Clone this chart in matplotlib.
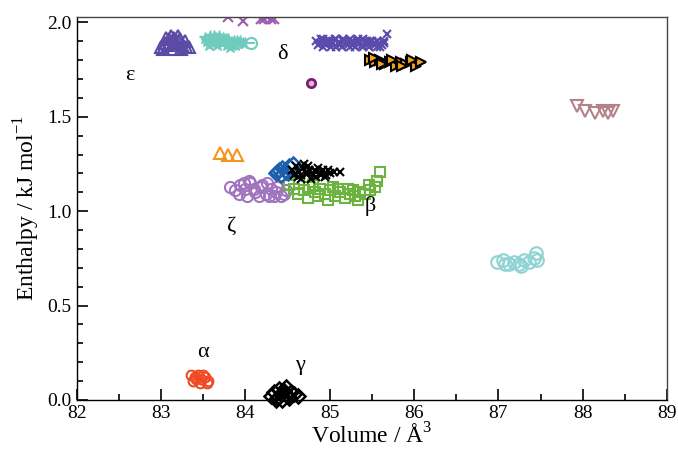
import matplotlib
matplotlib.use("Agg")
import matplotlib.pyplot as plt

plt.rcParams['font.family'] = ['Liberation Serif', 'DejaVu Serif']
plt.rcParams['mathtext.fontset'] = 'custom'
plt.rcParams['mathtext.rm'] = 'Liberation Serif'

# ---- data (volume in Å^3, enthalpy in kJ/mol) ----
eps_x = [83.00, 83.05, 83.10, 83.15, 83.20, 83.25, 83.30, 83.02, 83.08, 83.12, 83.18, 83.22, 83.28, 83.33, 83.06, 83.14, 83.20, 83.10, 83.24, 83.16]
eps_y = [1.87, 1.89, 1.91, 1.92, 1.90, 1.88, 1.87, 1.86, 1.88, 1.93, 1.89, 1.91, 1.90, 1.87, 1.92, 1.86, 1.93, 1.89, 1.86, 1.90]

teal_x = [83.52, 83.55, 83.58, 83.60, 83.62, 83.65, 83.68, 83.70, 83.72, 83.75, 83.78, 83.80, 83.83, 83.86, 83.88, 83.91, 83.94, 83.97, 84.00, 83.57, 83.63, 83.67, 83.73, 83.77, 83.82, 83.59, 83.69, 83.84, 83.90]
teal_y = [1.92, 1.90, 1.93, 1.89, 1.91, 1.92, 1.90, 1.91, 1.89, 1.90, 1.88, 1.91, 1.89, 1.90, 1.88, 1.89, 1.90, 1.89, 1.89, 1.88, 1.93, 1.88, 1.92, 1.91, 1.87, 1.91, 1.93, 1.88, 1.90]
theta_x = [84.07]
theta_y = [1.89]

top_x = [83.80, 83.97, 84.18, 84.22, 84.26, 84.30, 84.34]
top_y = [2.03, 2.01, 2.02, 2.02, 2.03, 2.02, 2.02]

delta_x = [84.84, 84.88, 84.92, 84.96, 85.00, 85.04, 85.08, 85.12, 85.16, 85.20, 85.24, 85.28, 85.32, 85.36, 85.40, 85.44, 85.48, 85.52, 85.56, 85.60, 85.64, 85.68,
           84.86, 84.90, 84.94, 84.98, 85.02, 85.06, 85.10, 85.14, 85.18, 85.22, 85.26, 85.30, 85.34, 85.38, 85.42, 85.46, 85.50, 85.54, 85.58, 85.62,
           84.92, 85.00, 85.08, 85.16, 85.24, 85.32, 85.40, 85.48, 85.56, 85.64, 84.96, 85.12, 85.28, 85.44, 85.60]
delta_y = [1.90, 1.89, 1.91, 1.88, 1.90, 1.89, 1.91, 1.88, 1.90, 1.89, 1.91, 1.88, 1.90, 1.89, 1.91, 1.88, 1.90, 1.89, 1.90, 1.89, 1.90, 1.94,
           1.88, 1.91, 1.89, 1.90, 1.87, 1.91, 1.89, 1.87, 1.90, 1.88, 1.90, 1.87, 1.91, 1.88, 1.89, 1.87, 1.90, 1.88, 1.89, 1.88,
           1.87, 1.89, 1.87, 1.91, 1.87, 1.89, 1.87, 1.89, 1.87, 1.89, 1.90, 1.89, 1.89, 1.90, 1.87]

tri_x = [85.48, 85.54, 85.60, 85.66, 85.72, 85.78, 85.84, 85.90, 85.96, 86.02, 86.08, 85.52, 85.62, 85.74, 85.86, 85.98]
tri_y = [1.80, 1.79, 1.80, 1.78, 1.79, 1.77, 1.79, 1.78, 1.79, 1.77, 1.79, 1.81, 1.78, 1.80, 1.77, 1.80]

dot_x = [84.78]
dot_y = [1.68]

mauve_x = [87.93, 88.03, 88.15, 88.24, 88.30, 88.36]
mauve_y = [1.56, 1.53, 1.52, 1.53, 1.52, 1.53]

lteal_x = [86.98, 87.05, 87.12, 87.18, 87.24, 87.30, 87.36, 87.42, 87.46, 87.45, 87.08, 87.27]
lteal_y = [0.73, 0.74, 0.72, 0.73, 0.72, 0.74, 0.73, 0.75, 0.74, 0.78, 0.72, 0.71]

otri_x = [83.70, 83.80, 83.90]
otri_y = [1.31, 1.30, 1.30]

dia_x = [84.36, 84.40, 84.44, 84.48, 84.52, 84.56, 84.42, 84.50, 84.38]
dia_y = [1.20, 1.22, 1.23, 1.21, 1.24, 1.25, 1.19, 1.20, 1.21]

blk_x = [84.55, 84.60, 84.64, 84.68, 84.72, 84.76, 84.80, 84.84, 84.88, 84.92, 84.96, 85.00, 85.05, 85.12, 84.62, 84.70, 84.78, 84.86, 84.94, 84.58, 84.74, 84.90,
         84.66, 84.82, 84.98, 84.66, 84.74, 84.84]
blk_y = [1.22, 1.24, 1.21, 1.23, 1.20, 1.22, 1.19, 1.21, 1.20, 1.22, 1.19, 1.20, 1.21, 1.21, 1.18, 1.25, 1.17, 1.23, 1.18, 1.19, 1.24, 1.19,
         1.19, 1.22, 1.22, 1.17, 1.20, 1.18]

zeta_x = [83.82, 83.88, 83.94, 84.00, 84.06, 84.12, 84.18, 84.24, 84.30, 84.36, 84.42, 84.48, 83.92, 84.02, 84.10, 84.20, 84.28, 84.38, 84.46, 84.04, 84.16, 84.34, 83.98, 84.26]
zeta_y = [1.13, 1.11, 1.14, 1.12, 1.15, 1.10, 1.13, 1.09, 1.12, 1.10, 1.08, 1.11, 1.09, 1.08, 1.12, 1.14, 1.08, 1.13, 1.09, 1.16, 1.08, 1.08, 1.15, 1.15]

beta_x = [84.52, 84.58, 84.64, 84.70, 84.76, 84.82, 84.88, 84.94, 85.00, 85.06, 85.12, 85.18, 85.24, 85.30, 85.36, 85.42, 85.48, 85.54, 84.62, 84.74, 84.86, 84.98, 85.10, 85.22, 85.34, 85.46, 85.56, 85.60, 84.80, 85.04, 85.28]
beta_y = [1.14, 1.12, 1.15, 1.11, 1.13, 1.10, 1.12, 1.09, 1.11, 1.08, 1.10, 1.07, 1.09, 1.08, 1.10, 1.09, 1.11, 1.13, 1.09, 1.07, 1.08, 1.06, 1.12, 1.12, 1.06, 1.14, 1.16, 1.21, 1.14, 1.13, 1.11]

alpha_x = [83.36, 83.40, 83.44, 83.48, 83.52, 83.56, 83.38, 83.46, 83.54, 83.42, 83.50]
alpha_y = [0.13, 0.12, 0.13, 0.11, 0.12, 0.10, 0.10, 0.09, 0.09, 0.11, 0.13]

gamma_x = [84.30, 84.34, 84.38, 84.42, 84.46, 84.50, 84.54, 84.58, 84.62, 84.36, 84.44, 84.52, 84.40, 84.48]
gamma_y = [0.02, 0.04, 0.01, 0.03, 0.05, 0.02, 0.04, 0.03, 0.02, 0.00, 0.00, 0.01, 0.06, 0.07]

labels = ['ε', 'δ', 'ζ', 'β', 'α', 'γ']
label_x = [82.63, 84.44, 83.84, 85.48, 83.50, 84.65]
label_y = [1.72, 1.83, 0.92, 1.03, 0.25, 0.18]

# ---- figure ----
fig = plt.figure(figsize=(6.78, 4.54), dpi=100)
ax = fig.add_axes([0.113, 0.119, 0.871, 0.844])

ax.plot(eps_x, eps_y, '^', ms=9, mfc='none', mec='#5b4ba6', mew=1.5, ls='none')
ax.plot(teal_x, teal_y, '*', ms=9, mfc='#6ecbbd', mec='#6ecbbd', mew=1.0, ls='none')
ax.plot(theta_x, theta_y, 'o', ms=8, mfc='white', mec='#6ecbbd', mew=1.5, ls='none')
ax.plot(theta_x, theta_y, '_', ms=6, mec='#6ecbbd', mew=1.5, ls='none')
ax.plot(top_x, top_y, 'x', ms=7, mec='#9b5cb4', mew=1.5, ls='none', clip_on=True)
ax.plot(delta_x, delta_y, 'x', ms=6, mec='#5a4cac', mew=1.5, ls='none')
ax.plot(tri_x, tri_y, '>', ms=7, mfc='#f7a21b', mec='black', mew=1.5, ls='none')
ax.plot(dot_x, dot_y, 'o', ms=6, mfc='#d9b8d6', mec='#7b1f6e', mew=2.0, ls='none')
ax.plot(mauve_x, mauve_y, 'v', ms=9, mfc='none', mec='#b4818a', mew=1.5, ls='none')
ax.plot(lteal_x, lteal_y, 'o', ms=9, mfc='none', mec='#8fd3d3', mew=1.5, ls='none')
ax.plot(otri_x, otri_y, '^', ms=8, mfc='none', mec='#f7941d', mew=1.5, ls='none')
ax.plot(zeta_x, zeta_y, 'o', ms=8, mfc='none', mec='#a074bf', mew=1.5, ls='none')
ax.plot(beta_x, beta_y, 's', ms=7, mfc='none', mec='#6db33f', mew=1.5, ls='none')
ax.plot(dia_x, dia_y, 'D', ms=7, mfc='none', mec='#1d5fae', mew=1.8, ls='none')
ax.plot(blk_x, blk_y, 'x', ms=6, mec='black', mew=1.5, ls='none')
ax.plot(alpha_x, alpha_y, 'o', ms=7, mfc='none', mec='#ef4a23', mew=1.5, ls='none')
ax.plot(gamma_x, gamma_y, 'D', ms=7, mfc='none', mec='black', mew=1.8, ls='none', clip_on=False)

for t, lx, ly in zip(labels, label_x, label_y):
    ax.text(lx, ly, t, fontsize=16, ha='center', va='center', color='black')

ax.set_xlim(82, 89)
ax.set_ylim(0, 2.03)
ax.set_xticks([82, 83, 84, 85, 86, 87, 88, 89])
ax.set_xticks([82.5, 83.5, 84.5, 85.5, 86.5, 87.5, 88.5], minor=True)
ax.set_yticks([0.0, 0.5, 1.0, 1.5, 2.0])
ax.set_yticklabels(['0.0', '0.5', '1.0', '1.5', '2.0'])
ax.set_yticks([0.1, 0.2, 0.3, 0.4, 0.6, 0.7, 0.8, 0.9, 1.1, 1.2, 1.3, 1.4, 1.6, 1.7, 1.8, 1.9], minor=True)
ax.tick_params(which='both', direction='in', top=False, right=False, labelsize=14, width=1.2)
ax.tick_params(which='major', length=8)
ax.tick_params(which='minor', length=4)
for s in ax.spines.values():
    s.set_linewidth(1.0)
    s.set_color('#444444')
ax.spines['left'].set_color('black')
ax.spines['bottom'].set_color('black')

ax.set_xlabel('Volume / Å$^{3}$', fontsize=17, labelpad=1)
ax.set_ylabel('Enthalpy / kJ mol$^{-1}$', fontsize=17, labelpad=4)

fig.savefig('out.png', dpi=100)
